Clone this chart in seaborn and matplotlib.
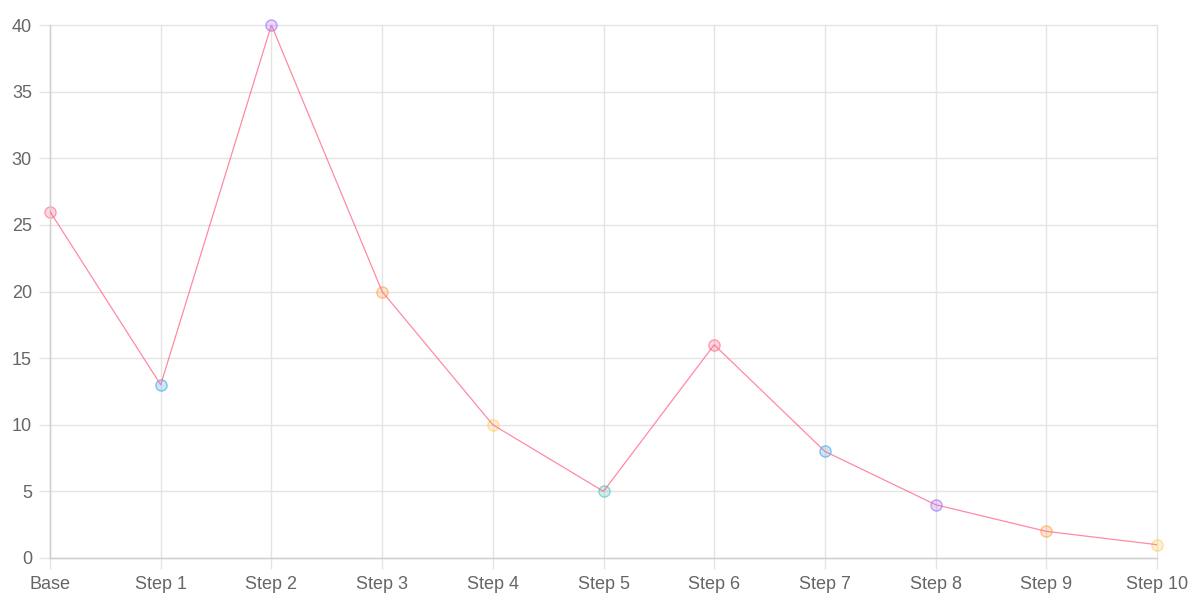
import matplotlib
matplotlib.use("Agg")
import matplotlib.pyplot as plt
import seaborn as sns
import pandas as pd

labels = ["Base", "Step 1", "Step 2", "Step 3", "Step 4", "Step 5",
          "Step 6", "Step 7", "Step 8", "Step 9", "Step 10"]
values = [26, 13, 40, 20, 10, 5, 16, 8, 4, 2, 1]
point_colors = ["#ff6384", "#36a2eb", "#9966ff", "#ff9f40", "#ffcd56", "#4bc0c0",
                "#ff6384", "#36a2eb", "#9966ff", "#ff9f40", "#ffcd56"]

df = pd.DataFrame({"x": range(len(labels)), "label": labels, "value": values})

sns.set_style("white")
plt.rcParams["font.family"] = ["Liberation Sans", "DejaVu Sans"]

fig = plt.figure(figsize=(12, 6.13), dpi=100)
ax = fig.add_axes([50 / 1200, 1 - 558 / 613, 1107 / 1200, 533 / 613])

# points first, line on top (line shows through the pale circles)
for i, (xv, yv) in enumerate(zip(df["x"], df["value"])):
    c = point_colors[i]
    ax.plot(xv, yv, marker="o", markersize=8, markerfacecolor=matplotlib.colors.to_rgba(c, 0.25),
            markeredgecolor=matplotlib.colors.to_rgba(c, 0.6), markeredgewidth=1,
            linestyle="none", zorder=2, clip_on=False)
sns.lineplot(data=df, x="x", y="value", color="#ff6384", alpha=0.75, linewidth=0.9, ax=ax, zorder=3)

ax.set_xlim(0, 10)
ax.set_ylim(0, 40)
ax.set_xticks(range(len(labels)))
ax.set_xticklabels(labels)
ax.set_yticks(range(0, 41, 5))
ax.set_xlabel("")
ax.set_ylabel("")

ax.grid(True, color="#e4e4e4", linewidth=1)
for gl in ax.get_xgridlines() + ax.get_ygridlines():
    gl.set_clip_on(False)
ax.set_axisbelow(True)
for s in ["top", "right"]:
    ax.spines[s].set_visible(False)
for s in ["left", "bottom"]:
    ax.spines[s].set_color("#cfcfcf")
    ax.spines[s].set_linewidth(1)

ax.tick_params(axis="both", which="both", length=8, width=1, color="#e4e4e4",
               labelcolor="#666666", labelsize=13, pad=5, left=True, bottom=True)

fig.savefig("out.png", dpi=100)
